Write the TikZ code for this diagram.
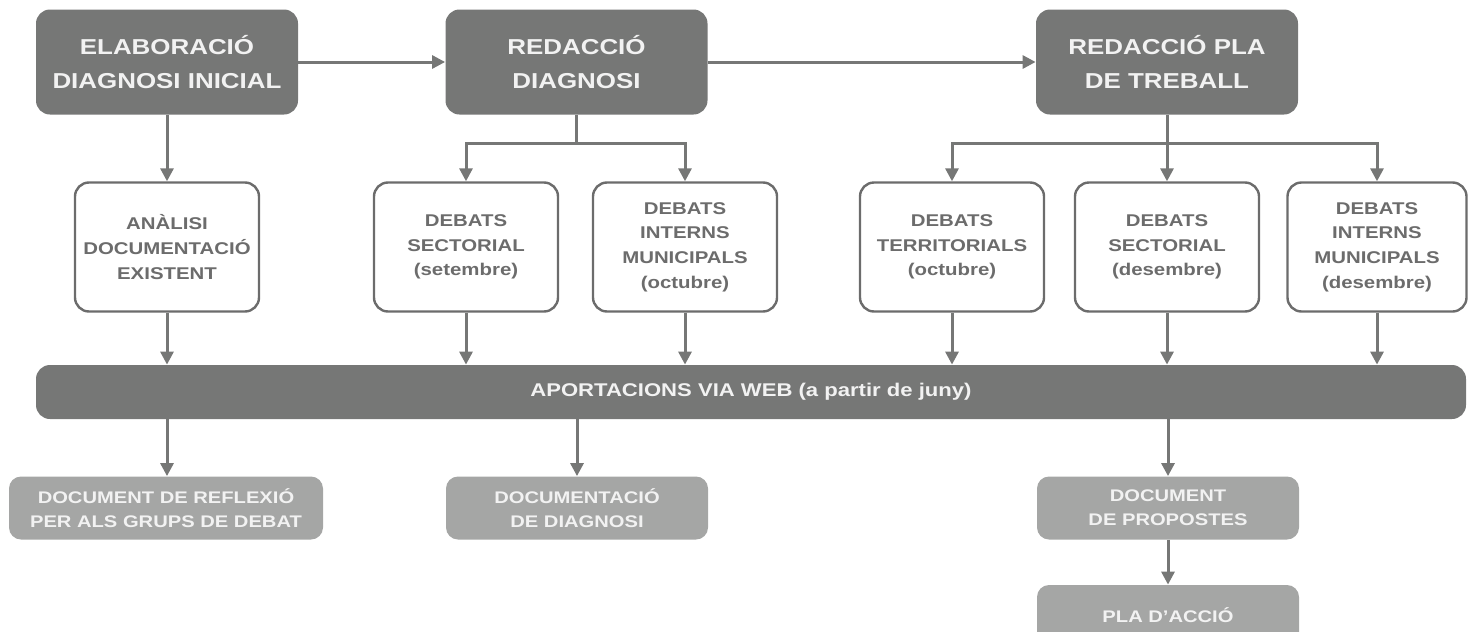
\documentclass[tikz,border=0pt]{standalone}
\usepackage{fontspec}
\setmainfont{Liberation Sans}[FakeStretch=1.2]
\usetikzlibrary{arrows.meta}
\definecolor{darkgr}{RGB}{118,119,118}
\definecolor{lightgr}{RGB}{165,166,165}
\definecolor{textgr}{RGB}{108,108,108}

\begin{document}
\begin{tikzpicture}[x=0.5pt, y=-0.5pt,
  stage/.style={fill=darkgr, rounded corners=7pt, minimum width=131pt, minimum height=52.5pt, align=center, text=white!95!black, font=\bfseries\fontsize{10.8}{17}\selectfont},
  debate/.style={draw=textgr, line width=1.2pt, fill=white, rounded corners=7pt, minimum width=92pt, minimum height=64.5pt, align=center, text=textgr, font=\bfseries\fontsize{8.5}{12.3}\selectfont},
  result/.style={fill=lightgr, rounded corners=6pt, minimum height=31.5pt, align=center, text=white!95!black, font=\bfseries\fontsize{8.4}{12}\selectfont},
  flow/.style={draw=darkgr, line width=1.5pt, -{Triangle[width=6.5pt,length=6.5pt]}}]
\clip (0,0) rectangle (1468,632);

\node[stage] (elab) at (167,62) {ELABORACIÓ\\DIAGNOSI INICIAL};
\node[stage] (redd) at (576.5,62) {REDACCIÓ\\DIAGNOSI};
\node[stage] (rpla) at (1167,62) {REDACCIÓ PLA\\DE TREBALL};

\node[debate] (anal) at (167,247) {ANÀLISI\\DOCUMENTACIÓ\\EXISTENT};
\node[debate] (sect1) at (466,247) {DEBATS\\SECTORIAL\\(setembre)};
\node[debate] (int1) at (685,247) {DEBATS\\INTERNS\\MUNICIPALS\\(octubre)};
\node[debate] (terr) at (952,247) {DEBATS\\TERRITORIALS\\(octubre)};
\node[debate] (sect2) at (1167,247) {DEBATS\\SECTORIAL\\(desembre)};
\node[debate, minimum width=89.5pt] (int2) at (1377,247) {DEBATS\\INTERNS\\MUNICIPALS\\(desembre)};

\node[fill=darkgr, rounded corners=7pt, minimum width=715pt, minimum height=27pt, text=white!95!black, font=\bfseries\fontsize{9.2}{11}\selectfont] (web) at (751,392) {APORTACIONS VIA WEB (a partir de juny)};

\node[result, minimum width=157pt] (docA) at (166,508) {DOCUMENT DE REFLEXIÓ\\PER ALS GRUPS DE DEBAT};
\node[result, minimum width=131pt] (docB) at (577,508) {DOCUMENTACIÓ\\DE DIAGNOSI};
\node[result, minimum width=131pt] (docC) at (1168,508) {DOCUMENT\\DE PROPOSTES};
\node[result, minimum width=131pt, minimum height=30pt] (pla) at (1168,615) {PLA D’ACCIÓ};

\draw[flow] (elab) -- (redd);
\draw[flow] (redd) -- (rpla);
\draw[flow] (elab) -- (anal);

\coordinate (fork2) at (576.5,143);
\draw[draw=darkgr, line width=1.5pt] (redd) -- (fork2);
\draw[flow] (fork2) -| (sect1);
\draw[flow] (fork2) -| (int1);

\coordinate (fork3) at (1167,143);
\draw[flow] (rpla) -- (sect2);
\draw[flow] (fork3) -| (terr);
\draw[flow] (fork3) -| (int2);

\foreach \n in {anal,sect1,int1,terr,sect2,int2}
  \draw[flow] (\n) -- (\n |- web.north);

\draw[flow] (anal.south |- web.south) -- (anal.south |- docA.north);
\draw[flow] (docB |- web.south) -- (docB);
\draw[flow] (docC |- web.south) -- (docC);
\draw[flow] (docC) -- (pla);
\end{tikzpicture}
\end{document}
